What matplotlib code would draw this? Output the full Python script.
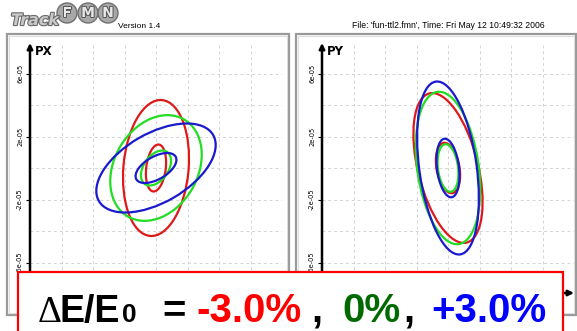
import matplotlib.pyplot as plt
import matplotlib.patheffects as pe
from matplotlib.patches import Ellipse, Rectangle, Circle

# energy offsets and colours of the three beams
dE = ["-3.0%", "0%", "+3.0%"]
ring_colors = ["#dd1a1a", "#22dd22", "#1a1acc"]
text_colors = ["#ff0000", "#006a00", "#0000ff"]

# phase-space ellipses (semi-axes a, b in units of 1e-5, tilt in degrees)
# order: -3%, 0%, +3%
px_outer_a = [4.33, 3.56, 4.19]
px_outer_b = [2.07, 2.65, 2.19]
px_outer_ang = [85, 60, 30]
px_inner_a = [1.50, 1.24, 1.44]
px_inner_b = [0.62, 0.78, 0.72]
px_inner_ang = [83, 55, 30]

py_outer_a = [4.88, 4.88, 5.54]
py_outer_b = [1.91, 1.95, 1.82]
py_outer_ang = [104, 98, 98]
py_inner_a = [1.62, 1.52, 1.87]
py_inner_b = [0.73, 0.64, 0.70]
py_inner_ang = [100, 97, 97]

ytick_vals = [-6e-5, -2e-5, 2e-5, 6e-5]
ytick_labels = ["-6e-05", "-2e-05", "2e-05", "6e-05"]
grid_vals = [-8e-5, -6e-5, -4e-5, -2e-5, 0, 2e-5, 4e-5, 6e-5, 8e-5]

W, H = 577, 331
fig = plt.figure(figsize=(W / 100, H / 100), dpi=100)
fig.patch.set_facecolor("white")
inch = fig.dpi_scale_trans


def pix(x, y):
    return x / 100, (H - y) / 100


def panel(left_px, label, oa, ob, oang, ia, ib, iang):
    ax = fig.add_axes([left_px / W, (H - 293) / H, 252 / W, 250 / H])
    ax.set_xlim(-8e-5, 8e-5)
    ylim = 8e-5 * 250 / 252
    ax.set_ylim(-ylim, ylim)
    for s in ax.spines.values():
        s.set_visible(False)
    ax.set_yticks(ytick_vals)
    ax.set_yticklabels(ytick_labels, rotation=90, va="center", fontsize=4.8)
    ax.set_xticks([])
    ax.tick_params(axis="y", length=3, width=0.8, pad=2)
    for g in grid_vals:
        ax.axhline(g, color="#d4d4d4", lw=0.7, ls=(0, (3, 3)), zorder=0)
        ax.axvline(g, color="#d4d4d4", lw=0.7, ls=(0, (3, 3)), zorder=0)
    for i in range(3):
        ax.add_patch(Ellipse((0, 0), 2 * oa[i] * 1e-5, 2 * ob[i] * 1e-5, angle=oang[i],
                             fill=False, ec=ring_colors[i], lw=1.6))
        ax.add_patch(Ellipse((0, 0), 2 * ia[i] * 1e-5, 2 * ib[i] * 1e-5, angle=iang[i],
                             fill=False, ec=ring_colors[i], lw=1.6))
    ax.annotate("", xy=(0, 1), xytext=(0, 0), xycoords="axes fraction",
                arrowprops=dict(arrowstyle="-|>", lw=1.8, color="k", mutation_scale=8,
                                shrinkA=0, shrinkB=0))
    ax.annotate("", xy=(1, 0), xytext=(0, 0), xycoords="axes fraction",
                arrowprops=dict(arrowstyle="-|>", lw=1.8, color="k", mutation_scale=8,
                                shrinkA=0, shrinkB=0))
    ax.text(0.02, 0.965, label, transform=ax.transAxes, fontsize=8.5,
            fontweight="bold", va="center", ha="left")
    return ax


panel(30, "PX", px_outer_a, px_outer_b, px_outer_ang, px_inner_a, px_inner_b, px_inner_ang)
panel(322, "PY", py_outer_a, py_outer_b, py_outer_ang, py_inner_a, py_inner_b, py_inner_ang)

# panel frames
for x0, x1 in [(7, 289), (296, 576)]:
    fig.add_artist(Rectangle(pix(x0, 315), (x1 - x0) / 100, (315 - 34) / 100, transform=inch,
                             fill=False, ec="#9a9a9a", lw=1.6))
    fig.add_artist(Rectangle(pix(x0 + 2, 313), (x1 - x0 - 4) / 100, (313 - 36) / 100,
                             transform=inch, fill=False, ec="#dddddd", lw=0.8))

# header
fig.text(*pix(11, 25), "Track", transform=inch, fontsize=11.5, fontweight="bold",
         style="italic", color="#c8c8c8",
         path_effects=[pe.withStroke(linewidth=1.6, foreground="#6a6a6a")])
for cx, letter in [(67, "F"), (88, "M"), (108, "N")]:
    fig.add_artist(Circle(pix(cx, 13), 0.10, transform=inch, fc="#a8a8a8", ec="#707070", lw=1))
    fig.text(*pix(cx, 13), letter, transform=inch, fontsize=10, fontweight="bold",
             color="#e8e8e8", ha="center", va="center",
             path_effects=[pe.withStroke(linewidth=1.4, foreground="#555555")])
fig.text(*pix(118, 28), "Version 1.4", transform=inch, fontsize=6, family="Liberation Sans")
fig.text(*pix(352, 28), "File: 'fun-ttl2.fmn', Time: Fri May 12 10:49:32 2006",
         transform=inch, fontsize=6.2, family="Liberation Sans")

# annotation box
fig.add_artist(Rectangle(pix(18, 340), (563 - 18) / 100, (340 - 272) / 100, transform=inch,
                         fc="white", ec="#ff0000", lw=1.6, zorder=5))
base = 322
big = dict(fontsize=29, fontweight="bold", family="Liberation Sans", zorder=6, transform=inch)
fig.text(*pix(38, base), "\u0394", fontsize=27, family="Liberation Serif", zorder=6,
         transform=inch)
fig.text(*pix(60, base), "E/E", fontsize=27, fontweight="bold", family="Liberation Sans",
         zorder=6, transform=inch)
fig.text(*pix(122, base), "0", fontsize=19, fontweight="bold", family="Liberation Sans",
         zorder=6, transform=inch)
fig.text(*pix(162, base), "=", **big)
fig.text(*pix(196, base), dE[0], color=text_colors[0], **big)
fig.text(*pix(311, base), ",", **big)
fig.text(*pix(342, base), dE[1], color=text_colors[1], **big)
fig.text(*pix(403, base), ",", **big)
fig.text(*pix(431, base), dE[2], color=text_colors[2], **big)

fig.savefig("out.png", dpi=100)
